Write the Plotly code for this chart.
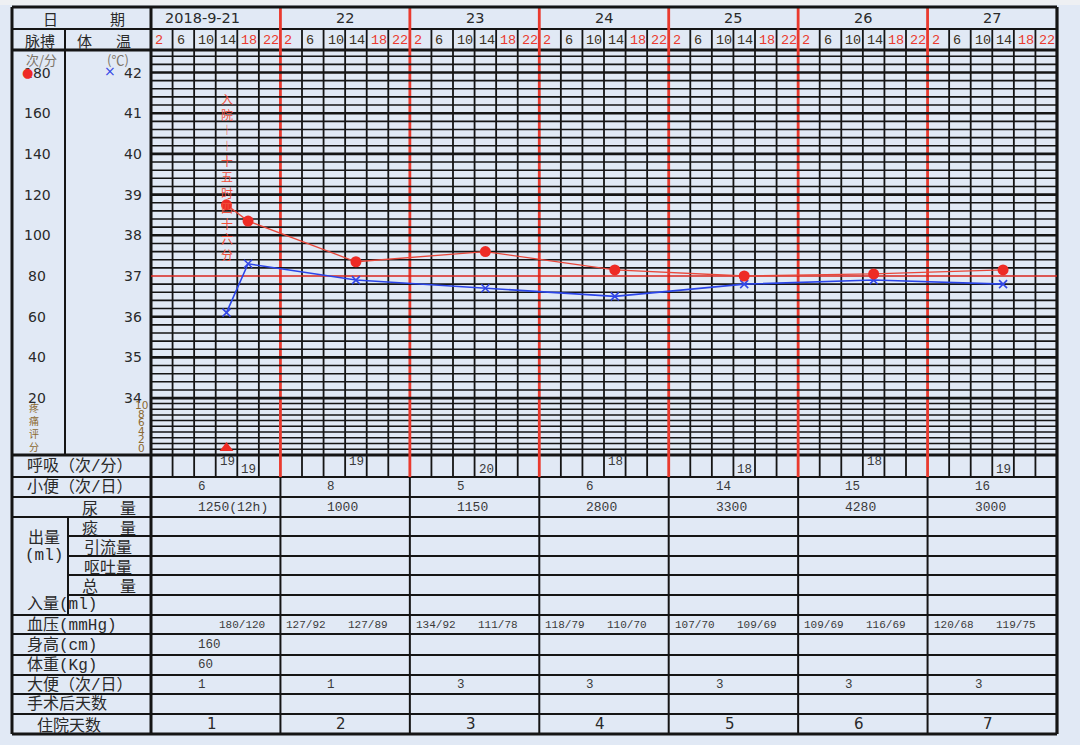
import plotly.graph_objects as go

W, H = 1080, 745

# ---------------- data ----------------
date_labels = ["2018-9-21", "22", "23", "24", "25", "26", "27"]
hour_labels = ["2", "6", "10", "14", "18", "22"]
hour_label_red = [True, False, False, False, True, True]

obs_day = [0, 0, 1, 2, 3, 4, 5, 6]
obs_hour = [14, 18, 14, 14, 14, 14, 14, 14]
temperature = [36.1, 37.3, 36.9, 36.7, 36.5, 36.8, 36.9, 36.8]
pulse = [115, 107, 87, 92, 83, 80, 81, 83]
respiration = [19, 19, 19, 20, 18, 18, 18, 19]

pain_day = [0]
pain_hour = [14]
pain_score = [0]

admission_day = 0
admission_hour = 15.77
admission_note = "入院——十五时四十六分"

urine_times = ["6", "8", "5", "6", "14", "15", "16"]
urine_volume = ["1250(12h)", "1000", "1150", "2800", "3300", "4280", "3000"]
bp_morning = ["", "127/92", "134/92", "118/79", "107/70", "109/69", "120/68"]
bp_evening = ["180/120", "127/89", "111/78", "110/70", "109/69", "116/69", "119/75"]
body_height = ["160", "", "", "", "", "", ""]
body_weight = ["60", "", "", "", "", "", ""]
stool_times = ["1", "1", "3", "3", "3", "3", "3"]
postop_days = ["", "", "", "", "", "", ""]
hospital_day = ["1", "2", "3", "4", "5", "6", "7"]

pulse_ticks = [180, 160, 140, 120, 100, 80, 60, 40, 20]
temp_ticks = [42, 41, 40, 39, 38, 37, 36, 35, 34]
pain_ticks = [10, 8, 6, 4, 2, 0]

# ---------------- layout geometry (pixels) ----------------
XL, XDIV, XOUT, XG, XR = 12, 65, 68, 151, 1057
Y_TOP, Y_HDR, Y_GT, Y_GB = 7, 29, 50, 455
ROWS = [455, 477, 497, 517, 536, 556, 575, 595, 615, 634, 655, 675, 694, 714, 734]
PPD, Y37 = 40.7, 276.0
T_TOP = 37 + (Y37 - Y_GT) / PPD
T_BOT = 37 - (Y_GB - Y37) / PPD
P_RANGE = [80 + (T_BOT - 37) * 20, 80 + (T_TOP - 37) * 20]
T_PAIN0 = 37 - (448 - Y37) / PPD
T_PAIN10 = 37 - (405 - Y37) / PPD
PAIN_SCALE = 10 / (T_PAIN10 - T_PAIN0)
PAIN_RANGE = [(T_BOT - T_PAIN0) * PAIN_SCALE, (T_TOP - T_PAIN0) * PAIN_SCALE]
DAY_PX = (XR - XG) / 7.0

BLACK = "#151515"
RED = "#EA3A2E"
TXT = "#2a2a2a"
VAL = "#3a3a3a"
PAINC = "#8C6A32"
CJK = "Noto Sans CJK SC"
LBL = "Liberation Mono, Noto Sans CJK SC"
MONO = "Liberation Mono"
SANS = "DejaVu Sans"


def fx(p):
    return p / W


def fy(p):
    return 1 - p / H


shapes = []


def line(x0, y0, x1, y1, color=BLACK, width=2.0, xref="paper", yref="paper"):
    shapes.append(dict(type="line", x0=x0, y0=y0, x1=x1, y1=y1, xref=xref, yref=yref,
                       line=dict(color=color, width=width), layer="below"))


def pline(x0, y0, x1, y1, color=BLACK, width=2.0):
    line(fx(x0), fy(y0), fx(x1), fy(y1), color, width)


ann = []


def text(x, y, s, size=15, color=TXT, family=CJK, xanchor="center", xref="paper",
         yref="paper", yanchor="middle"):
    ann.append(dict(x=x, y=y, text=s, xref=xref, yref=yref, xanchor=xanchor,
                    yanchor=yanchor, showarrow=False,
                    font=dict(size=size, color=color, family=family)))


# top light strip
shapes.append(dict(type="rect", xref="paper", yref="paper", x0=0, x1=1, y0=fy(5), y1=1,
                   fillcolor="#EEF0F3", line=dict(width=0), layer="below"))

# ---- grid horizontal lines (temperature) ----
for i in range(0, 43):
    t = round(34 + 0.2 * i, 1)
    if abs(t - 37) < 1e-6:
        continue
    w = 2.6 if abs(t - round(t)) < 1e-6 else 1.6
    line(0, t, 7, t, BLACK, w, xref="x", yref="y")
# pain area lines
for k in range(1, 10):
    yy = 397.7 + k * (Y_GB - 397.7) / 10
    pline(XG, yy, XR, yy, BLACK, 1.5)

# ---- vertical lines ----
for k in range(1, 42):
    xv = k / 6
    if k % 6 != 0:
        line(xv, fy(Y_HDR), xv, fy(ROWS[1]), BLACK, 1.8, xref="x")
for d in range(1, 7):
    line(d, fy(ROWS[1]), d, fy(ROWS[-1]), BLACK, 2.0, xref="x")

# ---- table horizontal lines ----
pline(XL, Y_HDR, XR, Y_HDR, BLACK, 2)
pline(XL, Y_GT, XR, Y_GT, BLACK, 3)
pline(XL, Y_GB, XR, Y_GB, BLACK, 3)
for r in ROWS[1:-1]:
    if r in (536, 556, 575, 595):
        pline(XOUT, r, XR, r, BLACK, 2)
    else:
        pline(XL, r, XR, r, BLACK, 2)

# red 37 line
line(0, 37, 7, 37, "#D8261E", 1.6, xref="x", yref="y")
# red day lines
for d in range(1, 7):
    line(d, fy(Y_TOP), d, fy(ROWS[1]), RED, 2.8, xref="x")

# borders / dividers
pline(XDIV, Y_HDR, XDIV, Y_GB, BLACK, 2)
pline(XOUT, 517, XOUT, 615, BLACK, 2)
pline(XL, Y_TOP, XR, Y_TOP, BLACK, 3)
pline(XL, ROWS[-1], XR, ROWS[-1], BLACK, 3)
pline(XL, Y_TOP, XL, ROWS[-1], BLACK, 3)
pline(XG, Y_TOP, XG, ROWS[-1], BLACK, 3)
pline(XR, Y_TOP, XR, ROWS[-1], BLACK, 3.2)

# ---------------- header texts ----------------
text(fx(50), fy(18), "日")
text(fx(117), fy(18), "期")
text(fx(40), fy(40), "脉搏")
text(fx(84), fy(40), "体")
text(fx(123), fy(40), "温")

for d, lab in enumerate(date_labels):
    xc = d + (0.4 if d == 0 else 0.5)
    text(xc, fy(18), lab, size=14.5, color=TXT, family=SANS, xref="x")
    for k, hl in enumerate(hour_labels):
        text(d + k / 6 + 2 / DAY_PX, fy(40), hl, size=13.5,
             color=RED if hour_label_red[k] else "#3a3020", family=MONO,
             xanchor="left", xref="x")

# ---------------- axis labels (left panel) ----------------
text(fx(41), fy(60), "次/分", size=13, color="#7c7468")
text(fx(118), fy(59), "(℃)", size=13, color="#7c7468")
for p in pulse_ticks:
    text(fx(37), p, str(p), size=14, family=SANS, yref="y3")
for t in temp_ticks:
    text(fx(144), t, str(t), size=14, family=SANS, xanchor="right", yref="y")
# legend markers
text(fx(27), fy(72), "●", size=13, color="#EE2B25", family=SANS)
text(fx(110), fy(71), "×", size=14, color="#3347E6", family=SANS)

# pain scale label
text(fx(34), fy(427), "疼<br>痛<br>评<br>分", size=10, color=PAINC)
for p in pain_ticks:
    text(fx(141), p, str(p), size=10.5, color=PAINC, family=SANS, yref="y2")

# admission note (vertical text)
adm_x = admission_day + (int(admission_hour // 4) * 4 + 2) / 24
note_vertical = "<br>".join("︱" if ch == "—" else ch for ch in admission_note)
text(adm_x, fy(88), note_vertical, size=12, color="#F0503C", xref="x", yanchor="top")

# ---------------- table row labels ----------------
row_labels = [
    ("呼吸（次/分）", 466), ("小便（次/日）", 487), ("入量(ml)", 605),
    ("血压(mmHg)", 625), ("身高(cm)", 645), ("体重(Kg)", 665),
    ("大便（次/日）", 685), ("手术后天数", 704),
]
for s, yy in row_labels:
    text(fx(25), fy(yy), s, size=16, family=LBL, xanchor="left")
text(fx(35), fy(724), "住院天数", size=16, xanchor="left")
text(fx(90), fy(507), "尿", size=16)
text(fx(128), fy(507), "量", size=16)
text(fx(44), fy(536), "出量", size=16)
text(fx(44), fy(556), "(ml)", size=16, family=LBL)
text(fx(90), fy(526.5), "痰", size=16)
text(fx(128), fy(526.5), "量", size=16)
text(fx(108), fy(546), "引流量", size=16)
text(fx(108), fy(565.5), "呕吐量", size=16)
text(fx(90), fy(585), "总", size=16)
text(fx(128), fy(585), "量", size=16)

# ---------------- table values ----------------
off = 45 / DAY_PX
for d in range(7):
    text(d + off, fy(487), urine_times[d], size=12.5, color=VAL, family=MONO, xanchor="left", xref="x")
    text(d + off, fy(507), urine_volume[d], size=13, color=VAL, family=MONO, xanchor="left", xref="x")
    text(d + 4 / DAY_PX, fy(625), bp_morning[d], size=11, color=VAL, family=MONO, xanchor="left", xref="x")
    text(d + 66 / DAY_PX, fy(625), bp_evening[d], size=11, color=VAL, family=MONO, xanchor="left", xref="x")
    text(d + off, fy(645), body_height[d], size=12.5, color=VAL, family=MONO, xanchor="left", xref="x")
    text(d + off, fy(665), body_weight[d], size=12.5, color=VAL, family=MONO, xanchor="left", xref="x")
    text(d + off, fy(685), stool_times[d], size=12.5, color=VAL, family=MONO, xanchor="left", xref="x")
    text(d + off, fy(704), postop_days[d], size=12.5, color=VAL, family=MONO, xanchor="left", xref="x")
    text(d + 0.47, fy(724), hospital_day[d], size=15, color=TXT, family=SANS, xref="x")

# respiration values, alternating up/down
for i, (dd, hh, rv) in enumerate(zip(obs_day, obs_hour, respiration)):
    xx = dd + (hh - 2) / 24 + 2 / DAY_PX
    yy = 462 if i % 2 == 0 else 470
    text(xx, fy(yy), str(rv), size=12.5, color=VAL, family=MONO, xanchor="left", xref="x")

# ---------------- traces ----------------
xt = [d + h / 24 for d, h in zip(obs_day, obs_hour)]
xp = [d + h / 24 for d, h in zip(pain_day, pain_hour)]

fig = go.Figure()
fig.add_trace(go.Scatter(
    x=xt, y=temperature, mode="lines+markers", yaxis="y",
    line=dict(color="#2B45E8", width=1.6),
    marker=dict(symbol="x-thin", size=8, line=dict(color="#3347E6", width=1.6)),
    showlegend=False, hoverinfo="skip"))
fig.add_trace(go.Scatter(
    x=xt, y=pulse, mode="lines+markers", yaxis="y3",
    line=dict(color="#E8473A", width=1.3),
    marker=dict(symbol="circle", size=11, color="#EE2B25"),
    showlegend=False, hoverinfo="skip"))
fig.add_trace(go.Scatter(
    x=xp, y=pain_score, mode="markers", yaxis="y2",
    marker=dict(symbol="triangle-up", size=12, color="#EE2B25"),
    showlegend=False, hoverinfo="skip"))

axis_common = dict(visible=False, showgrid=False, zeroline=False, fixedrange=True)
fig.update_layout(
    width=W, height=H, autosize=False,
    margin=dict(l=0, r=0, t=0, b=0, pad=0),
    paper_bgcolor="#E1E9F5", plot_bgcolor="rgba(0,0,0,0)",
    xaxis=dict(domain=[fx(XG), fx(XR)], range=[0, 7], **axis_common),
    yaxis=dict(domain=[fy(Y_GB), fy(Y_GT)], range=[T_BOT, T_TOP], **axis_common),
    yaxis2=dict(overlaying="y", range=PAIN_RANGE, **axis_common),
    yaxis3=dict(overlaying="y", range=P_RANGE, **axis_common),
    shapes=shapes, annotations=ann, showlegend=False, hovermode=False,
)

fig.write_html("out.html", config={"displayModeBar": False},
               post_script="document.body.style.margin='0';document.body.style.background='#E1E9F5';")
